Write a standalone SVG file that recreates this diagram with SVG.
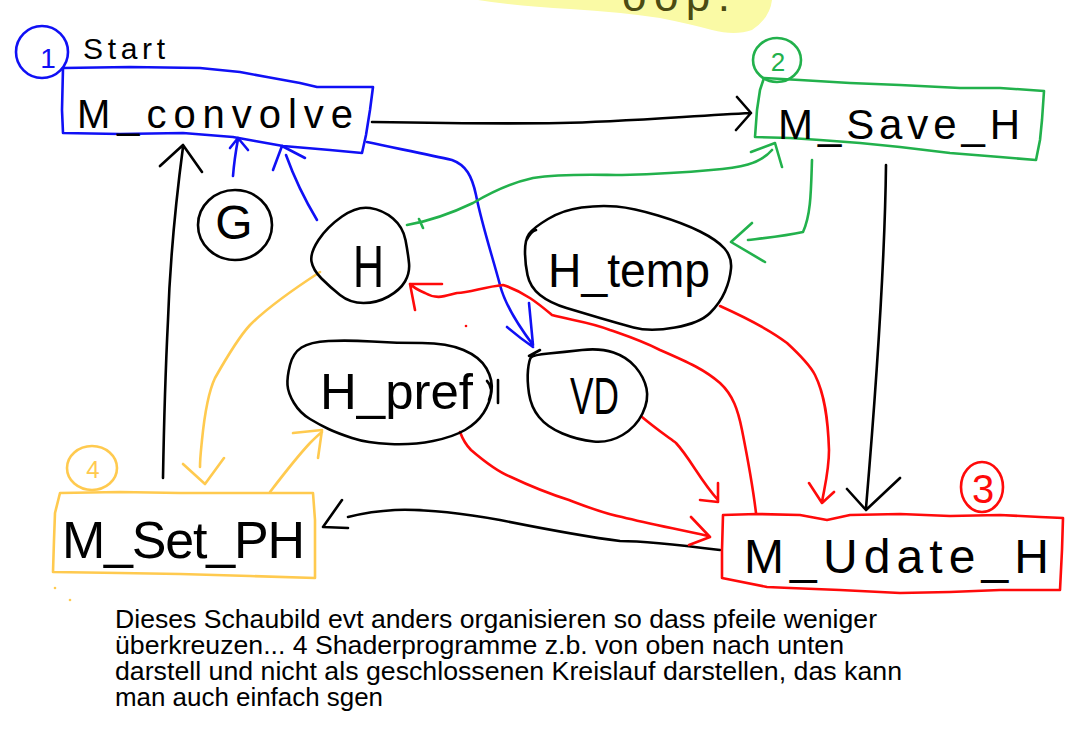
<svg xmlns="http://www.w3.org/2000/svg" width="1092" height="737" viewBox="0 0 1092 737">
<style>
  .s{fill:none;stroke-width:2.6;stroke-linecap:round;stroke-linejoin:round}
  .k{stroke:#000}
  .b{stroke:#1010f5}
  .g{stroke:#22b14c}
  .r{stroke:#ff0a0a}
  .y{stroke:#ffca4f}
  .hand{font-family:"Liberation Sans",Arial,sans-serif;fill:#000}
  .num{font-family:"Liberation Sans",Arial,sans-serif;text-anchor:middle}
  .para{font-family:"Liberation Sans",Arial,sans-serif;font-size:25px;fill:#000}
</style>
<rect width="1092" height="737" fill="#fff"/>

<!-- top highlight (cut off at the top edge, as in the reference) -->
<g id="highlight">
  <path d="M478,0 L772,0 Q770,18 752,30 Q735,36 712,30 Q690,24 660,18 Q620,12 570,9 Q515,6 478,0 Z" fill="#fafaa5"/>
  <text x="622" y="11" font-family="Liberation Sans, Arial, sans-serif" font-size="44" fill="#4b4b12" textLength="108" lengthAdjust="spacing">oop.</text>
</g>

<g id="connectors">
  <!-- convolve -> save_H -->
  <path class="s k" d="M372,122 C430,123 500,124 560,123 C620,122 690,116 751,113 M737,97 L751,113 L736,130"/>
  <!-- save_H -> update_H -->
  <path class="s k" d="M886,165 C885,250 876,390 866,508 M847,489 L866,510 L900,478"/>
  <!-- update_H -> set_PH -->
  <path class="s k" d="M720,550 C680,545 640,541 620,541 C580,536 540,528 500,520 C460,513 420,509 395,510 C375,511 360,514 348,517 M342,500 L323,527 L348,528"/>
  <!-- set_PH -> convolve -->
  <path class="s k" d="M163,478 C164,420 166,360 168,320 C170,260 176,200 183,147 M160,166 L183,145 L202,172"/>

  <!-- G -> convolve -->
  <path class="s b" d="M233,176 C234,163 236,150 238,139 M230,148 L238,138 L248,150"/>
  <!-- H -> convolve -->
  <path class="s b" d="M317,220 C305,200 295,180 286,155 M273,170 L282,146 L305,158"/>
  <!-- convolve -> VD -->
  <path class="s b" d="M367,142 C395,148 430,155 452,160 C466,165 472,176 476,195 C482,225 492,255 500,285 C505,305 518,325 533,345 M507,327 Q520,338 533,347 M529,303 L533,345"/>

  <!-- H <-> save_H -->
  <path class="s g" d="M407,225 C430,221 450,214 473,203 C490,193 510,183 533,178 C565,173 600,175 622,175 C660,174 690,172 711,170 C740,168 760,164 772,150 M751,152 L775,143 L782,167 M419,219 L423,228"/>
  <!-- save_H -> H_temp -->
  <path class="s g" d="M812,160 C811,190 811,215 803,232 C785,236 765,238 748,240 M752,223 L731,242 L765,262"/>

  <!-- update_H -> H -->
  <path class="s r" d="M756,513 C752,480 746,450 742,430 C738,410 733,395 720,383 C705,370 690,363 660,350 C640,340 630,337 610,330 C590,322 570,320 552,315 C540,305 525,292 503,285 C483,287 470,293 457,293 C445,296 437,300 425,293 C418,290 413,287 410,284 M442,284 L410,284 L415,310"/>
  <!-- H_temp -> update_H -->
  <path class="s r" d="M720,306 C740,315 770,330 787,343 C800,355 810,365 815,375 C825,395 828,420 829,450 C829,470 825,485 822,502 M809,483 L822,503 L834,492"/>
  <!-- VD -> update_H -->
  <path class="s r" d="M642,417 C655,428 668,437 676,443 C690,458 700,480 718,500 M700,500 L718,502 L718,483"/>
  <!-- H_pref -> update_H -->
  <path class="s r" d="M460,432 C463,440 467,446 471,450 C485,462 498,472 511,477 C530,486 550,494 569,500 C590,508 605,514 622,517 C650,524 672,528 708,536 M691,517 L710,537 L689,545"/>
  <circle cx="466" cy="326" r="1.3" fill="#ff0a0a"/>

  <!-- H -> set_PH -->
  <path class="s y" d="M320,272 C300,285 270,305 250,325 C238,338 228,355 215,378 C207,395 204,420 202,440 C201,450 200,458 200,467 M183,464 L205,484 L224,458"/>
  <!-- set_PH -> H_pref -->
  <path class="s y" d="M270,492 C283,475 296,458 310,443 C314,439 318,435 322,432 M293,433 L322,430 L318,458"/>
  <circle cx="55" cy="588" r="1.3" fill="#ffca4f"/>
  <circle cx="70" cy="600" r="1.3" fill="#ffca4f"/>
</g>

<g id="node-convolve">
  <ellipse class="s b" cx="42" cy="52" rx="26" ry="26"/>
  <text class="num" x="48" y="68" font-size="28" fill="#1010f5">1</text>
  <text class="hand" x="83" y="59" font-size="30" textLength="82" lengthAdjust="spacing">Start</text>
  <path class="s b" d="M63,68 L130,67 L200,68 L240,72 L267,77 L300,83 L317,87 L373,87 L370,110 L366,135 L362,153 L330,150 L283,146 L255,141 L233,137 L183,133 L120,134 L63,133 L62,110 Z"/>
  <text class="hand" x="77" y="128" font-size="40" textLength="276" lengthAdjust="spacing">M_convolve</text>
</g>

<g id="node-save">
  <ellipse class="s g" cx="777" cy="60" rx="24" ry="22"/>
  <text class="num" x="778" y="71" font-size="26" fill="#22b14c">2</text>
  <path class="s g" d="M764,78 L800,80 L850,83 L900,85 L960,88 L1000,88 L1030,90 L1044,91 L1042,120 L1040,140 L1036,160 L1000,157 L950,153 L900,147 L860,143 L820,140 L790,138 L755,137 L757,110 L760,90 Z"/>
  <text class="hand" x="778" y="139" font-size="42" textLength="242" lengthAdjust="spacing">M_Save_H</text>
</g>

<g id="node-update">
  <ellipse class="s r" cx="982" cy="487" rx="21" ry="25"/>
  <text class="num" x="983" y="503" font-size="40" fill="#ff0a0a">3</text>
  <path class="s r" d="M723,515 L757,514 L800,515 L827,520 L850,515 L900,514 L950,516 L1000,515 L1040,517 L1063,518 L1062,550 L1060,590 L1000,590 L950,592 L900,593 L840,590 L790,588 L767,587 L722,578 L722,550 Z"/>
  <text class="hand" x="744" y="573" font-size="48" textLength="305" lengthAdjust="spacing">M_Udate_H</text>
</g>

<g id="node-setph">
  <ellipse class="s y" cx="92" cy="468" rx="25" ry="22"/>
  <text class="num" x="93" y="478" font-size="24" fill="#ffca4f">4</text>
  <path class="s y" d="M60,493 L120,492 L180,493 L250,493 L313,493 L315,520 L315,550 L315,578 L250,576 L180,574 L120,573 L53,572 L54,540 L55,513 Z"/>
  <text class="hand" x="62" y="558" font-size="52" textLength="243" lengthAdjust="spacing">M_Set_PH</text>
</g>

<g id="node-G">
  <ellipse class="s k" cx="235" cy="225" rx="37" ry="35"/>
  <text class="hand" x="234" y="239" font-size="48" text-anchor="middle">G</text>
</g>

<g id="node-H">
  <path class="s k" d="M318.5,240 Q327,227 342,216.5 Q357,206 370,208 Q383,210 393,218.5 Q403,227 405.5,240 Q408,253 409,263 Q410,273 405,281.5 Q400,290 388.5,296.5 Q377,303 363.5,303 Q350,303 340,295 Q330,287 321.5,278.5 Q313,270 311.5,261.5 Q310,253 318.5,240 Z"/>
  <text class="hand" x="353" y="287" font-size="60" textLength="31" lengthAdjust="spacingAndGlyphs">H</text>
</g>

<g id="node-Htemp">
  <path class="s k" d="M529,234 Q533,228 548,219 Q563,210 581.5,207.5 Q600,205 616.5,206.5 Q633,208 658,215.5 Q683,223 700,231.5 Q717,240 724.5,248.5 Q732,257 731,268.5 Q730,280 725,291.5 Q720,303 710,313 Q700,323 675,327.5 Q650,332 633.5,327.5 Q617,323 600,318 Q583,313 566.5,308 Q550,303 540,295 Q530,287 527.5,275 Q525,263 525,251.5 Q525,240 529,234 Z M526,241 Q531,231 536,230"/>
  <text class="hand" x="548" y="287" font-size="48" textLength="162" lengthAdjust="spacingAndGlyphs">H_temp</text>
</g>

<g id="node-Hpref">
  <path class="s k" d="M290,365 Q293,353 301.5,347.5 Q310,342 328.5,341 Q347,340 372,341.5 Q397,343 422,343 Q447,343 463.5,350 Q480,357 486.5,368.5 Q493,380 491.5,391.5 Q490,403 483.5,413 Q477,423 465,430 Q453,437 433,441 Q413,445 390,444 Q367,443 352,438 Q337,433 328.5,429 Q320,425 310,419 Q300,413 294,403 Q288,393 287.5,385 Q287,377 290,365 Z M487,381 Q494,388 489,400 M498,380 L498,403"/>
  <text class="hand" x="320" y="409" font-size="50" textLength="153" lengthAdjust="spacingAndGlyphs">H_pref</text>
</g>

<g id="node-VD">
  <path class="s k" d="M531,357.5 Q533,355 548.5,353.5 Q564,352 582,350 Q600,348 613.5,352.5 Q627,357 635.5,367 Q644,377 646.5,388.5 Q649,400 642.5,413.5 Q636,427 622.5,435 Q609,443 593.5,441.5 Q578,440 562.5,433.5 Q547,427 539,417 Q531,407 529,393.5 Q527,380 528,370 Q529,360 531,357.5 Z M529,356 L540,350"/>
  <text class="hand" x="570" y="414" font-size="52" textLength="49" lengthAdjust="spacingAndGlyphs">VD</text>
</g>

<g id="note">
  <text class="para" x="115" y="628" textLength="762" lengthAdjust="spacingAndGlyphs">Dieses Schaubild evt anders organisieren so dass pfeile weniger</text>
  <text class="para" x="115" y="654" textLength="729" lengthAdjust="spacingAndGlyphs">überkreuzen... 4 Shaderprogramme z.b. von oben nach unten</text>
  <text class="para" x="115" y="680" textLength="787" lengthAdjust="spacingAndGlyphs">darstell und nicht als geschlossenen Kreislauf darstellen, das kann</text>
  <text class="para" x="115" y="706" textLength="268" lengthAdjust="spacingAndGlyphs">man auch einfach sgen</text>
</g>
</svg>
